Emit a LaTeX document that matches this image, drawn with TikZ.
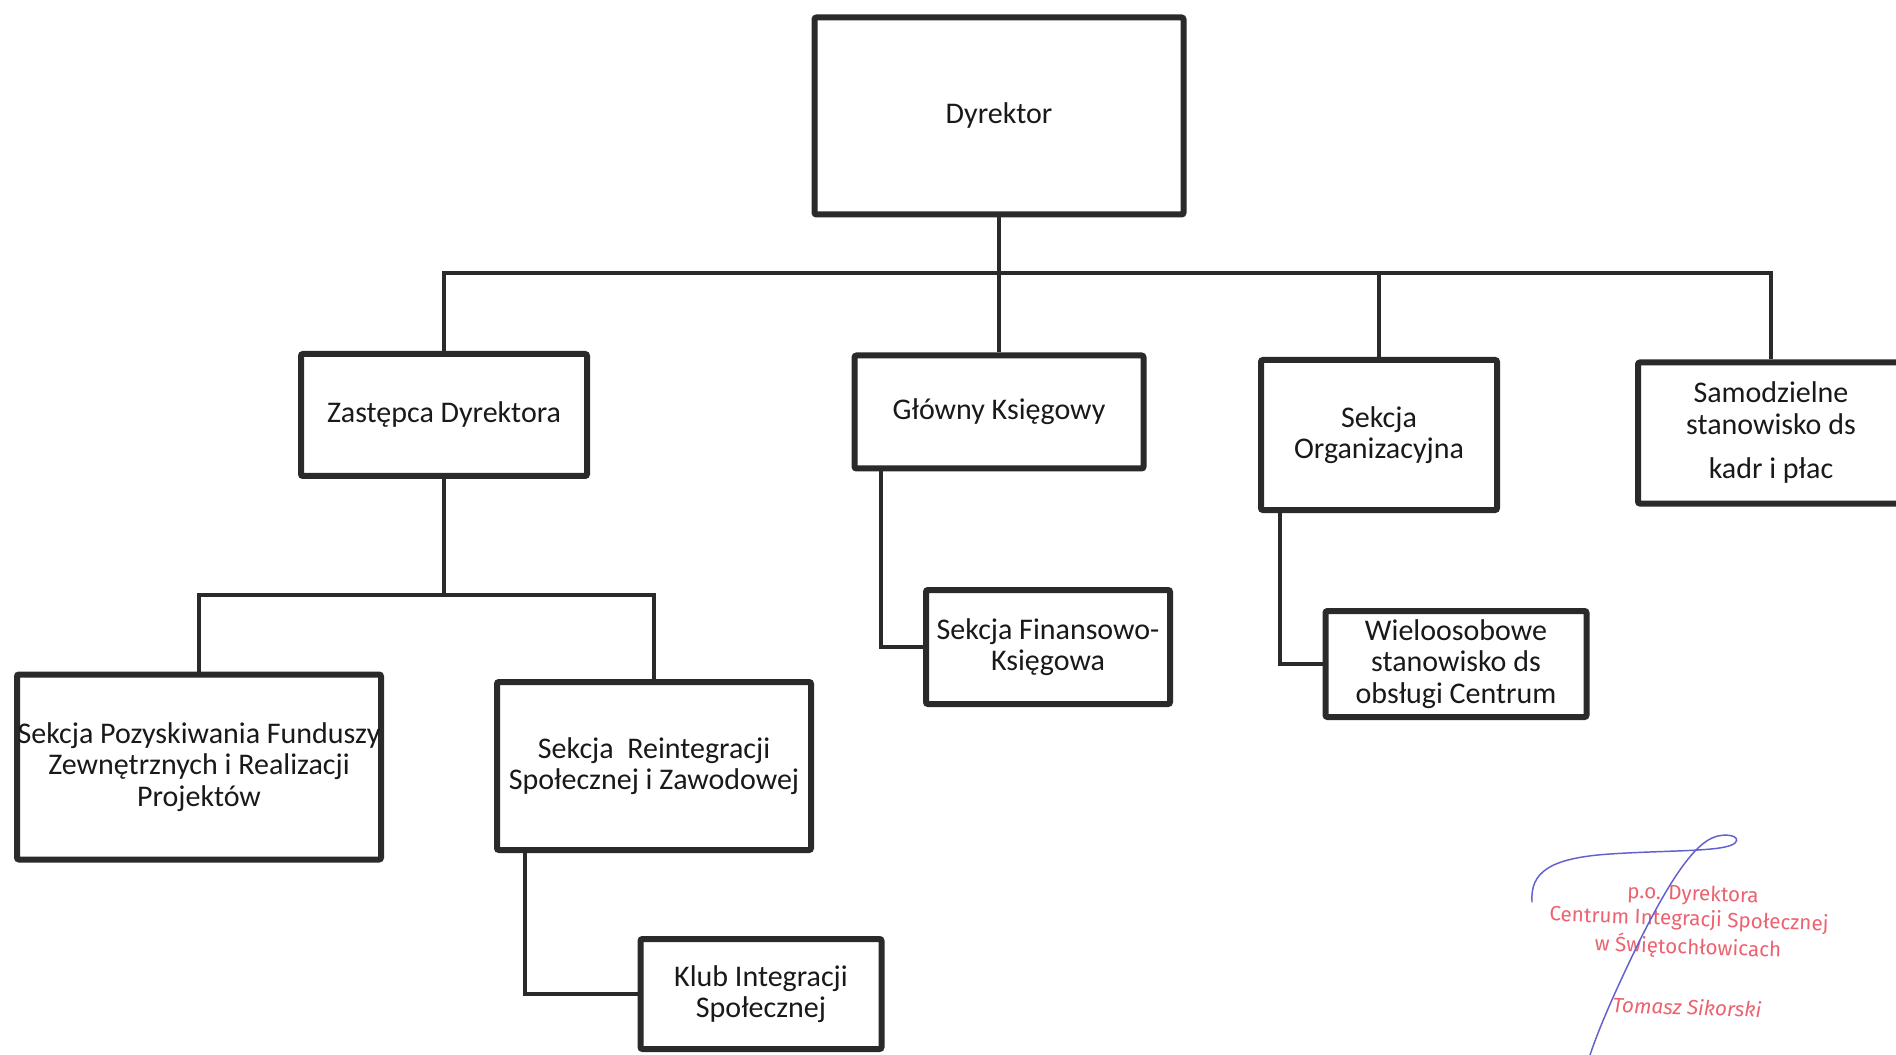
\documentclass[tikz,border=0pt]{standalone}
\usepackage{fontspec}
\setmainfont{Carlito}
\newfontfamily\stampfont{Fira Sans}
\definecolor{boxgray}{RGB}{42,42,42}
\definecolor{stampred}{RGB}{236,98,112}
\definecolor{signblue}{RGB}{98,96,206}
\begin{document}
\begin{tikzpicture}[x=0.75pt,y=-0.75pt,
	unit/.style={draw=boxgray, line width=4.5pt, rounded corners=1.5pt, fill=white, align=center, inner sep=0pt, text=black!90, font=\fontsize{22.5}{23.5}\selectfont},
	link/.style={draw=boxgray, line width=3pt},
	stamp/.style={text=stampred, rotate=-2, inner sep=0pt, font=\stampfont\fontsize{15.5}{17}\selectfont},
	sign/.style={draw=signblue, line width=1.1pt, line cap=round}]
	\path[use as bounding box, fill=white] (0,0) rectangle (1896,1055);
	% levels
	\node[unit, minimum width=276.75pt, minimum height=147.75pt] (dyr) at (999,116) {Dyrektor};
	\node[unit, minimum width=214.5pt, minimum height=91.5pt] (zast) at (444,415) {Zastępca Dyrektora};
	\node[unit, minimum width=216.75pt, minimum height=84.75pt] (glow) at (999,412) {Główny Księgowy};
	\node[unit, minimum width=177pt, minimum height=112.5pt] (org) at (1379,435) {Sekcja\\Organizacyjna};
	\node[unit, minimum width=199.5pt, minimum height=105.75pt] (samo) at (1771,433) {Samodzielne\\stanowisko ds\\[10pt]kadr i płac};
	\node[unit, minimum width=273pt, minimum height=138.75pt] (pozy) at (199,767) {Sekcja Pozyskiwania Funduszy\\Zewnętrznych i Realizacji\\Projektów};
	\node[unit, minimum width=235.5pt, minimum height=126pt] (reint) at (654,766) {Sekcja~ Reintegracji\\Społecznej i Zawodowej};
	\node[unit, minimum width=183pt, minimum height=85.5pt] (fin) at (1048,647) {Sekcja Finansowo-\\Księgowa};
	\node[unit, minimum width=195.75pt, minimum height=79.5pt] (wiel) at (1456,664) {Wieloosobowe\\stanowisko ds\\obsługi Centrum};
	\node[unit, minimum width=180.75pt, minimum height=82.5pt] (klub) at (761,994) {Klub Integracji\\Społecznej};
	\coordinate (bus) at (0,273);
	\coordinate (sub) at (0,595);
	% connectors
	\draw[link] (zast.north) |- (samo.north |- bus) -- (samo.north);
	\draw[link] (dyr.south) -- (glow.north);
	\draw[link] (org.north) -- (org.north |- bus);
	\draw[link] (zast.south) -- (zast.south |- sub);
	\draw[link] (pozy.north) |- (reint.north |- sub) -- (reint.north);
	\draw[link] ([xshift=21.75pt]glow.south west) |- (fin.west);
	\draw[link] ([xshift=16.5pt]org.south west) |- (wiel.west);
	\draw[link] ([xshift=23.25pt]reint.south west) |- (klub.west);
	% stamp and signature
	\node[stamp] (po) at (1693,895) {p.o. Dyrektora};
	\node[stamp] (cis) at (1689,920) {Centrum Integracji Społecznej};
	\node[stamp] (swi) at (1688,947) {w Świętochłowicach};
	\node[stamp, font=\stampfont\itshape\fontsize{15.5}{17}\selectfont] (name) at (1687,1007) {Tomasz Sikorski};
	\draw[sign] (1532,902) .. controls (1530,872) and (1550,858) .. (1610,854)
		.. controls (1670,850) and (1725,852) .. (1735,843)
		.. controls (1742,836) and (1725,832) .. (1712,838)
		.. controls (1690,848) and (1665,890) .. (1640,940)
		.. controls (1618,985) and (1600,1025) .. (1590,1055);
\end{tikzpicture}
\end{document}
